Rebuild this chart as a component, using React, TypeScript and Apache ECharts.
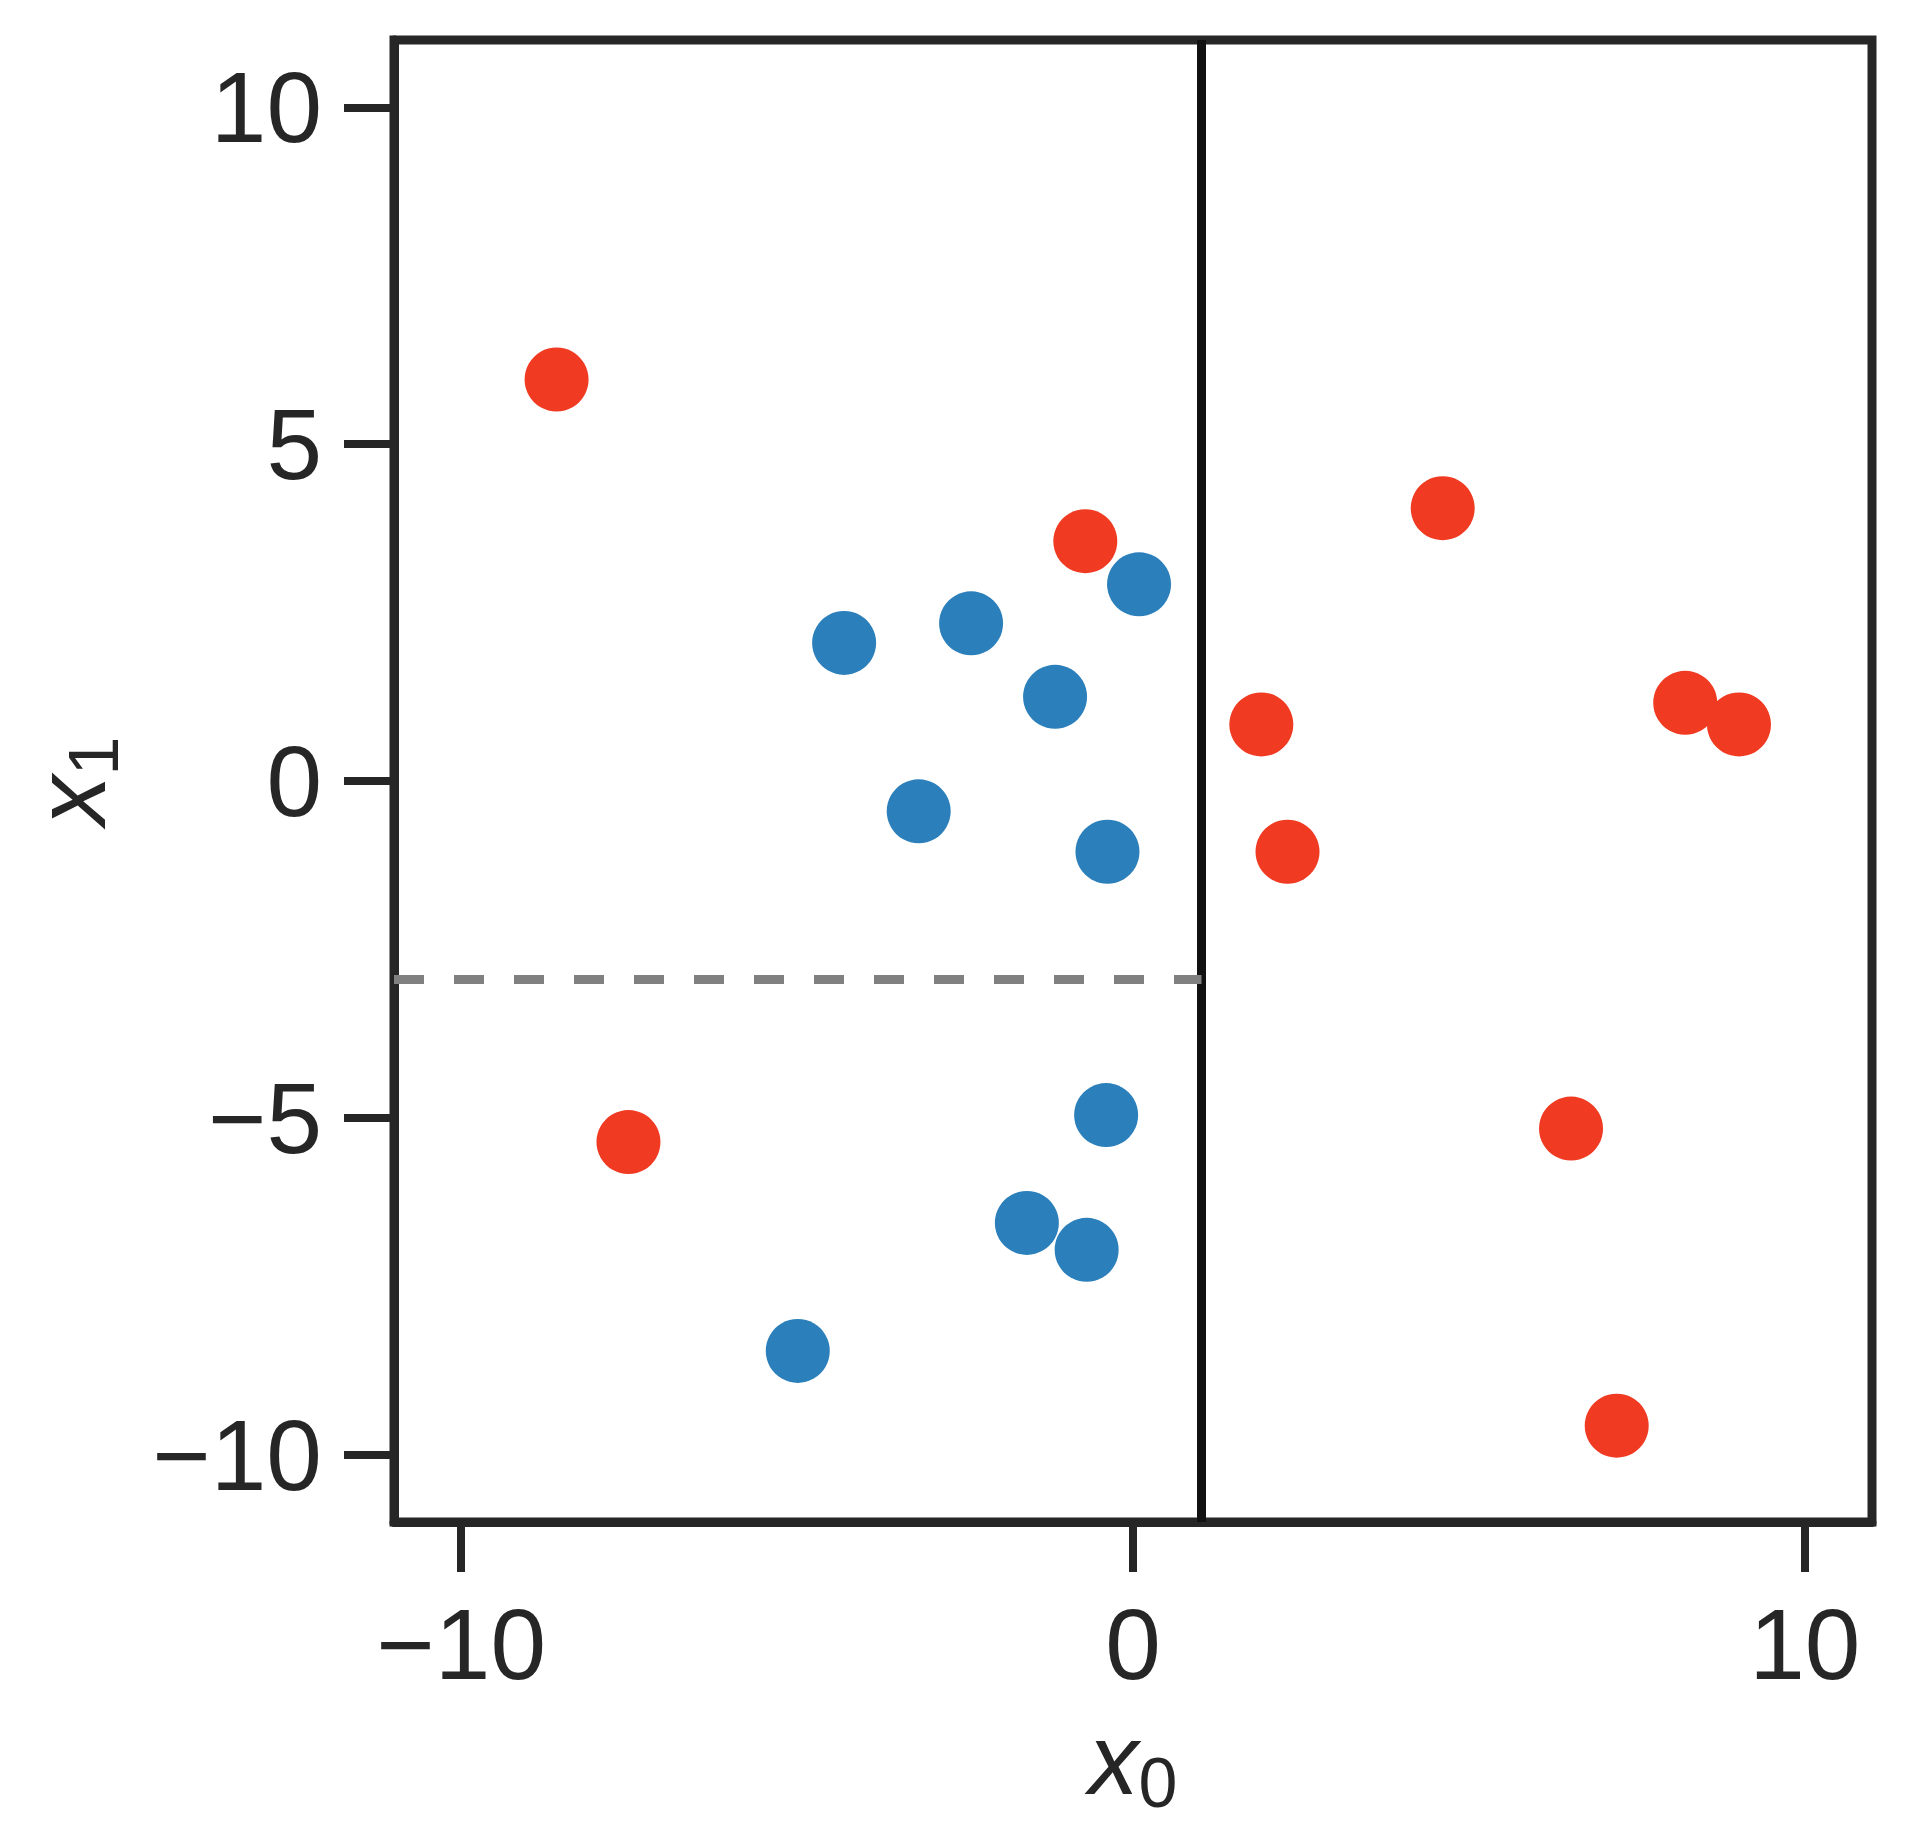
import { useEffect, useRef } from 'react';
import * as echarts from 'echarts';

const redPoints = [
  [-8.58, 5.96], [-0.71, 3.56], [4.61, 4.05], [1.91, 0.84], [2.3, -1.05],
  [8.22, 1.16], [9.02, 0.84], [-7.51, -5.36], [6.52, -5.16], [7.2, -9.57],
];
const bluePoints = [
  [-4.3, 2.05], [-2.41, 2.34], [0.09, 2.92], [-1.16, 1.25], [-3.19, -0.45],
  [-0.38, -1.05], [-0.4, -4.96], [-1.58, -6.56], [-0.69, -6.96], [-4.99, -8.46],
];
const xTicks = [-10, 0, 10];
const yTicks = [-10, -5, 0, 5, 10];
const splitX = 1.02;
const splitY = -2.94;
const axisMin = -11;
const axisMax = 11;

const fmt = (v: number) => String(v).replace('-', '\u2212');
const font = 'Liberation Sans, Arial';

const nameStyle = {
  rich: {
    a: { fontSize: 100, fontStyle: 'italic', color: '#262626', fontFamily: font },
    b: { fontSize: 70, color: '#262626', fontFamily: font, verticalAlign: 'bottom', padding: [48, 0, 0, 0] },
  },
};

const makeAxis = (ticks: number[]) => ({
  type: 'value',
  min: axisMin,
  max: axisMax,
  interval: 1,
  splitLine: { show: false },
  axisLine: { show: true, onZero: false, lineStyle: { color: '#262626', width: 9 } },
  axisTick: { show: true, length: 50, lineStyle: { color: '#262626', width: 8 }, customValues: ticks },
  axisLabel: { color: '#262626', fontSize: 100, fontFamily: font, formatter: fmt, customValues: ticks, margin: 72 },
});

export default function App() {
  const chartRef = useRef<HTMLDivElement>(null);

  useEffect(() => {
    if (!chartRef.current) return;
    const chart = echarts.init(chartRef.current, null, { renderer: 'svg' });
    chart.setOption({
      animation: false,
      grid: {
        left: 394, right: 39, top: 40, bottom: 312,
        show: true, borderColor: '#262626', borderWidth: 9,
      },
      xAxis: {
        ...makeAxis(xTicks),
        name: '{a|x}{b|0}',
        nameLocation: 'middle',
        nameGap: 178,
        nameTextStyle: nameStyle,
      },
      yAxis: {
        ...makeAxis(yTicks),
        name: '{a|x}{b|1}',
        nameLocation: 'middle',
        nameGap: 265,
        nameTextStyle: nameStyle,
      },
      series: [
        {
          type: 'scatter',
          data: redPoints,
          symbolSize: 64,
          itemStyle: { color: '#f03a22', opacity: 1 },
          markLine: {
            silent: true,
            symbol: 'none',
            label: { show: false },
            data: [
              [{ coord: [splitX, axisMin], lineStyle: { color: '#111', width: 9, type: 'solid' } }, { coord: [splitX, axisMax] }],
              [{ coord: [axisMin, splitY], lineStyle: { color: '#808080', width: 9, type: [30, 30] } }, { coord: [splitX, splitY] }],
            ],
          },
        },
        {
          type: 'scatter',
          data: bluePoints,
          symbolSize: 64,
          itemStyle: { color: '#2b7fba', opacity: 1 },
        },
      ],
    });
    return () => chart.dispose();
  }, []);

  return <div ref={chartRef} style={{ position: 'fixed', left: 0, top: 0, width: 1911, height: 1834, background: '#fff' }} />;
}
